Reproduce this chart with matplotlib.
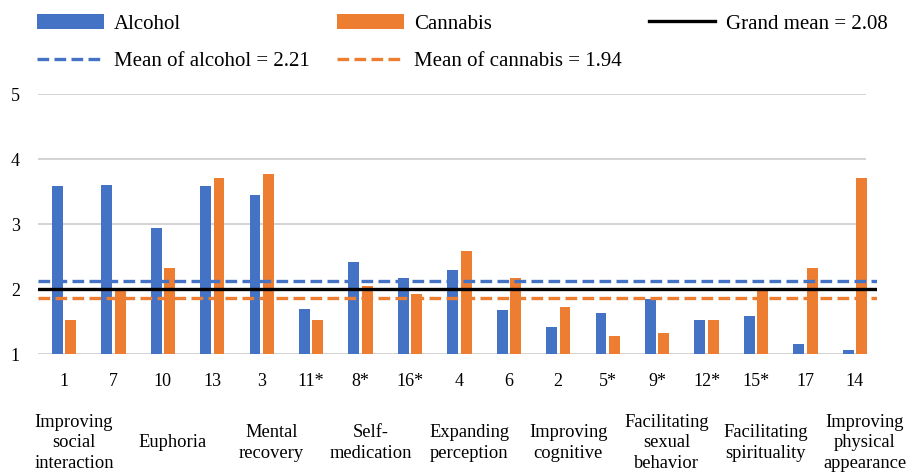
import numpy as np
import matplotlib
matplotlib.use("Agg")
from matplotlib import pyplot as plt

plt.rcParams['font.family'] = ['Liberation Serif', 'DejaVu Serif']

# ====
# Data
tick_labels = ['1', '7', '10', '13', '3', '11*', '8*', '16*', '4', '6',
               '2', '5*', '9*', '12*', '15*', '17', '14']
alcohol = [3.59, 3.60, 2.94, 3.59, 3.45, 1.69, 2.41, 2.17, 2.30, 1.68,
           1.41, 1.63, 1.84, 1.53, 1.58, 1.16, 1.06]
cannabis = [1.53, 2.00, 2.33, 3.71, 3.77, 1.53, 2.05, 1.92, 2.59, 2.17,
            1.73, 1.28, 1.33, 1.53, 2.00, 2.33, 3.71]
categories = ['Improving\nsocial\ninteraction', 'Euphoria', 'Mental\nrecovery',
              'Self-\nmedication', 'Expanding\nperception', 'Improving\ncognitive',
              'Facilitating\nsexual\nbehavior', 'Facilitating\nspirituality',
              'Improving\nphysical\nappearance']

# reference lines (where they are drawn) and their legend text
mean_alcohol_y = 2.12
grand_mean_y = 2.0
mean_cannabis_y = 1.86
label_alcohol_mean = 'Mean of alcohol = 2.21'
label_cannabis_mean = 'Mean of cannabis = 1.94'
label_grand_mean = 'Grand mean = 2.08'

blue = '#4472C4'
orange = '#ED7D31'

# ====
fig = plt.figure(figsize=(9.13, 4.75), dpi=100)
ax = fig.add_axes([0.0416, 0.2547, 0.9190, 0.5474])

x = np.arange(len(tick_labels))
w = 0.22
off = 0.136
xmin, xmax = -0.526, 16.45
grid_end = 16.22

# gridlines (stop at the last bar)
ax.hlines([1, 2, 3, 4, 5], xmin, grid_end, colors='#D0D0D0', linewidth=1.3, zorder=0)

b1 = ax.bar(x - off, alcohol, width=w, color=blue, label='Alcohol', zorder=2)
b2 = ax.bar(x + off, cannabis, width=w, color=orange, label='Cannabis', zorder=2)

l_alc = ax.axhline(mean_alcohol_y, color=blue, linewidth=2.4, dashes=(3.5, 1.6),
                   label=label_alcohol_mean, zorder=3)
l_grand = ax.axhline(grand_mean_y, color='black', linewidth=2.4,
                     label=label_grand_mean, zorder=3)
l_can = ax.axhline(mean_cannabis_y, color=orange, linewidth=2.4, dashes=(3.5, 1.6),
                   label=label_cannabis_mean, zorder=3)

ax.set_xlim(xmin, xmax)
ax.set_ylim(1, 5)
ax.set_yticks([1, 2, 3, 4, 5])
ax.set_xticks(x)
ax.set_xticklabels(tick_labels, fontsize=13)
ax.tick_params(axis='both', length=0, labelsize=13)
ax.tick_params(axis='x', pad=14)
ax.tick_params(axis='y', pad=13)
for s in ax.spines.values():
    s.set_visible(False)

# group names under the numbers
for i, name in enumerate(categories):
    ax.text(2 * i + 0.2, -0.342, name, transform=ax.get_xaxis_transform(),
            ha='center', va='center', fontsize=13.3, linespacing=1.3)

# legend, row-major order across 3 columns
handles = [b1, l_alc, b2, l_can, l_grand]
labels = [h.get_label() for h in handles]
fig.legend(handles, labels, loc='upper left', bbox_to_anchor=(37 / 913, 1 - 14 / 475),
           ncol=3, frameon=False, fontsize=15, handlelength=3.2, handletextpad=0.5,
           columnspacing=1.3, borderpad=0, borderaxespad=0, labelspacing=0.85)

plt.savefig('out.png', dpi=100)
